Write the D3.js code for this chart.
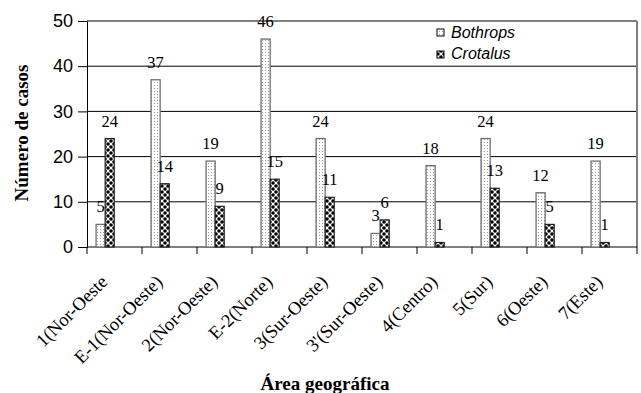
<!DOCTYPE html>
<html><head><meta charset="utf-8">
<script src="https://cdn.jsdelivr.net/npm/d3@7/dist/d3.min.js"></script>
<style>body{margin:0;background:#fff}svg{display:block}</style>
</head><body>
<svg id="c" width="641" height="393"></svg>
<script>
const categories = ["1(Nor-Oeste","E-1(Nor-Oeste)","2(Nor-Oeste)","E-2(Norte)","3(Sur-Oeste)","3'(Sur-Oeste)","4(Centro)","5(Sur)","6(Oeste)","7(Este)"];
const bothrops = [5,37,19,46,24,3,18,24,12,19];
const crotalus = [24,14,9,15,11,6,1,13,5,1];
const seriesNames = ["Bothrops","Crotalus"];
const yTicks = [0,10,20,30,40,50];

const svg = d3.select("#c");
const L=87, R=637, T=21, B=247;
const x = d3.scaleBand().domain(categories).range([L,R]).padding(0);
const y = d3.scaleLinear().domain([0,50]).range([B,T]);
const bw = x.bandwidth();
const barW = bw*0.165;

const defs = svg.append("defs");
const p1 = defs.append("pattern").attr("id","dots").attr("patternUnits","userSpaceOnUse").attr("width",3).attr("height",3);
p1.append("rect").attr("width",3).attr("height",3).attr("fill","#fff");
p1.append("rect").attr("x",1).attr("y",1).attr("width",1).attr("height",1).attr("fill","#999");
const p2 = defs.append("pattern").attr("id","diam").attr("patternUnits","userSpaceOnUse").attr("width",6).attr("height",6);
p2.append("rect").attr("width",6).attr("height",6).attr("fill","#fff");
[[0,0],[6,0],[0,6],[6,6],[3,3]].forEach(([a,b])=>p2.append("circle").attr("cx",a).attr("cy",b).attr("r",1.8).attr("fill","#000"));

// gridlines
svg.append("g").selectAll("line").data(yTicks.filter(d=>d>0&&d<50)).join("line")
  .attr("x1",L).attr("x2",R).attr("y1",d=>y(d)).attr("y2",d=>y(d)).attr("stroke","#000").attr("stroke-width",1);
// plot border top/right
svg.append("line").attr("x1",L).attr("x2",R).attr("y1",y(50)).attr("y2",y(50)).attr("stroke","#808080").attr("stroke-width",2);
svg.append("line").attr("x1",R).attr("x2",R).attr("y1",T).attr("y2",B).attr("stroke","#808080").attr("stroke-width",2);

// y axis
const ya = svg.append("g").attr("transform",`translate(${L},0)`)
  .call(d3.axisLeft(y).tickValues(yTicks).tickSize(9).tickPadding(5));
ya.select(".domain").attr("stroke","#000");
ya.selectAll("text").attr("font-family","Liberation Sans, Arial, sans-serif").attr("font-size",18).attr("fill","#000");

// x axis
const xa = svg.append("g").attr("transform",`translate(0,${B})`);
xa.append("line").attr("x1",L).attr("x2",R).attr("stroke","#000");
xa.selectAll(".tk").data(categories.concat(["_end"])).join("line")
  .attr("x1",(d,i)=>L+i*bw).attr("x2",(d,i)=>L+i*bw).attr("y1",0).attr("y2",7).attr("stroke","#000");
svg.append("g").selectAll("text").data(categories).join("text")
  .attr("transform",d=>`translate(${x(d)+bw/2-6},${283}) rotate(-45)`)
  .attr("text-anchor","end")
  .attr("font-family","Liberation Serif, Times New Roman, serif").attr("font-size",18.5).text(d=>d);

// bars
const g = svg.append("g");
g.selectAll(".b").data(bothrops).join("rect")
  .attr("x",(d,i)=>x(categories[i])+barW).attr("width",barW)
  .attr("y",d=>y(d)).attr("height",d=>B-y(d))
  .attr("fill","url(#dots)").attr("stroke","#6e6e6e").attr("stroke-width",1.3);
g.selectAll(".c").data(crotalus).join("rect")
  .attr("x",(d,i)=>x(categories[i])+2*barW).attr("width",barW)
  .attr("y",d=>y(d)).attr("height",d=>B-y(d))
  .attr("fill","url(#diam)").attr("stroke","#222").attr("stroke-width",1.2);

// labels
const lf = "Liberation Serif, Times New Roman, serif";
g.selectAll(".lb").data(bothrops).join("text")
  .attr("x",(d,i)=>x(categories[i])+barW*1.5).attr("y",d=>y(d)-12)
  .attr("text-anchor","middle").attr("font-family",lf).attr("font-size",16.5).text(d=>d);
g.selectAll(".lc").data(crotalus).join("text")
  .attr("x",(d,i)=>x(categories[i])+barW*2.5).attr("y",d=>y(d)-12)
  .attr("text-anchor","middle").attr("font-family",lf).attr("font-size",16.5).text(d=>d);

// legend
const leg = svg.append("g");
const fills = ["url(#dots)","url(#diam)"];
seriesNames.forEach((n,i)=>{
  leg.append("rect").attr("x",437).attr("y",29+i*22).attr("width",7).attr("height",7)
    .attr("fill",fills[i]).attr("stroke","#000").attr("stroke-width",1);
  leg.append("text").attr("x",451).attr("y",38+i*21).attr("font-family","Liberation Sans, Arial, sans-serif")
    .attr("font-style","italic").attr("font-size",16).text(n);
});

// axis titles
svg.append("text").attr("transform","translate(28,133) rotate(-90)").attr("text-anchor","middle")
  .attr("font-family",lf).attr("font-weight","bold").attr("font-size",19).text("Número de casos");
svg.append("text").attr("x",325).attr("y",390).attr("text-anchor","middle")
  .attr("font-family",lf).attr("font-weight","bold").attr("font-size",19).text("Área geográfica");
</script>
</body></html>
